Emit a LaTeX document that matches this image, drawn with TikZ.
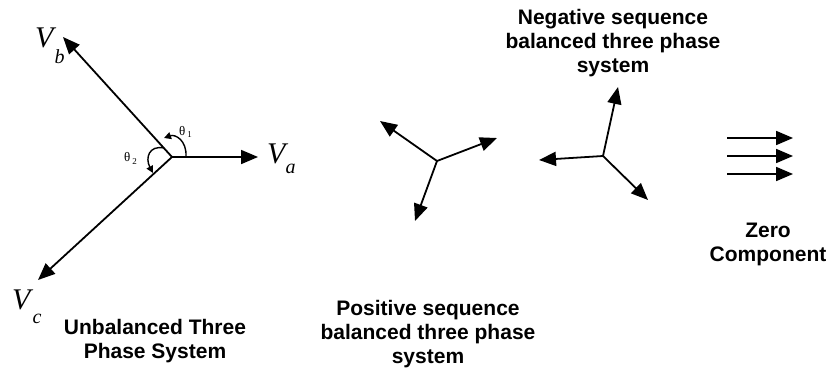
\documentclass[tikz,border=0pt]{standalone}
\usepackage{fontspec}
\setmainfont{Liberation Serif}
\setsansfont{Liberation Sans}
\usetikzlibrary{arrows.meta}
\begin{document}
\begin{tikzpicture}[x=1pt,y=-1pt,
  vec/.style={line width=1.8pt,-{Triangle[length=17pt,width=14pt]}},
  angarrow/.style={line width=1.4pt,-{Triangle[length=7pt,width=7pt]}},
  caption/.style={font=\fontsize{21}{24}\selectfont\sffamily\bfseries,align=center,inner sep=0pt},
  vlab/.style={anchor=base west,inner sep=0pt,font=\fontsize{30}{30}\selectfont\itshape},
  thlab/.style={anchor=base west,inner sep=0pt,font=\fontsize{13}{13}\selectfont}]
\useasboundingbox (0,0) rectangle (830,369);
% unbalanced system
\coordinate (O) at (172,157);
\coordinate (Atip) at (258,157);
\coordinate (Btip) at (63,37);
\coordinate (Ctip) at (38,280);
\draw[vec] (O) -- (Atip);
\draw[vec] (O) -- (Btip);
\draw[vec] (O) -- (Ctip);
\coordinate (t1s) at (186,157);
\coordinate (t1e) at (164,138);
\coordinate (t2s) at (164,148);
\coordinate (t2e) at (153,173);
\draw[angarrow] (t1s) .. controls (187,140) and (175,134) .. (t1e);
\draw[angarrow] (t2s) .. controls (149,145) and (145,158) .. (t2e);
\node[vlab] (va) at (267,163) {V\kern0pt\raisebox{-10pt}{\fontsize{20}{20}\selectfont a}};
\node[vlab] (vb) at (35,48) {V\kern1pt\raisebox{-16pt}{\fontsize{20}{20}\selectfont b}};
\node[vlab] (vc) at (12,309) {V\kern2pt\raisebox{-14pt}{\fontsize{20}{20}\selectfont c}};
\node[thlab] (th1) at (179,135) {θ\kern2pt\raisebox{-2pt}{\fontsize{9}{9}\selectfont 1}};
\node[thlab] (th2) at (124,161) {θ\kern2pt\raisebox{-3pt}{\fontsize{9}{9}\selectfont 2}};
\node[caption] (unb) at (155,341) {Unbalanced Three\\Phase System};
% positive sequence
\coordinate (P) at (437,161);
\coordinate (P1) at (380,121);
\coordinate (P2) at (497,138);
\coordinate (P3) at (415,221);
\draw[vec] (P) -- (P1);
\draw[vec] (P) -- (P2);
\draw[vec] (P) -- (P3);
\node[caption] (pos) at (428,334) {Positive sequence\\balanced three phase\\system};
% negative sequence
\coordinate (N) at (603,156);
\coordinate (N1) at (618,87);
\coordinate (N2) at (539,160);
\coordinate (N3) at (648,200);
\draw[vec] (N) -- (N1);
\draw[vec] (N) -- (N2);
\draw[vec] (N) -- (N3);
\node[caption] (neg) at (613,43) {Negative sequence\\balanced three phase\\system};
% zero component
\coordinate (Z1a) at (727,138);
\coordinate (Z1b) at (793,138);
\coordinate (Z2a) at (727,156);
\coordinate (Z2b) at (793,156);
\coordinate (Z3a) at (727,174);
\coordinate (Z3b) at (793,174);
\draw[vec] (Z1a) -- (Z1b);
\draw[vec] (Z2a) -- (Z2b);
\draw[vec] (Z3a) -- (Z3b);
\node[caption] (zero) at (768,244) {Zero\\Component};
\end{tikzpicture}
\end{document}
